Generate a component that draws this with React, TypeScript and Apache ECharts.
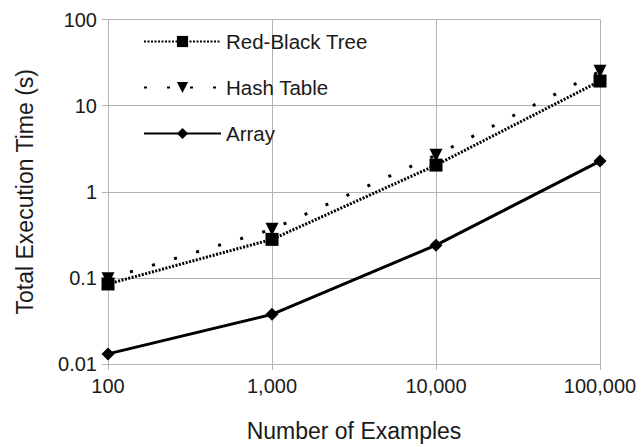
import React, { useEffect, useRef } from "react";
import * as echarts from "echarts";

const examples = [100, 1000, 10000, 100000];
const redBlackTree = [0.085, 0.28, 2.04, 19.3];
const hashTable = [0.098, 0.366, 2.66, 25];
const arrayTimes = [0.0131, 0.0377, 0.24, 2.27];
const xTickLabels = ["100", "1,000", "10,000", "100,000"];
const yTickLabels = ["0.01", "0.1", "1", "10", "100"];
const yTickValues = [0.01, 0.1, 1, 10, 100];

const FONT = "Liberation Sans";
const TEXT = "#1a1a1a";
const GRID = "#b3b3b3";

function pair(ys: number[]) {
  return examples.map((x, i) => [x, ys[i]]);
}

export default function App() {
  const ref = useRef<HTMLDivElement>(null);
  useEffect(() => {
    if (!ref.current) return;
    const chart = echarts.init(ref.current, null, { renderer: "svg" });
    chart.setOption({
      animation: false,
      backgroundColor: "#ffffff",
      textStyle: { fontFamily: FONT },
      grid: { left: 108, right: 41, top: 19.5, bottom: 79, containLabel: false },
      legend: {
        left: 138,
        top: 26,
        orient: "vertical",
        itemWidth: 77,
        itemHeight: 14,
        itemGap: 25,
        textStyle: { fontFamily: FONT, fontSize: 20.5, color: TEXT },
        data: ["Red-Black Tree", "Hash Table", "Array"],
      },
      xAxis: {
        type: "log",
        logBase: 10,
        min: 100,
        max: 100000,
        name: "Number of Examples",
        nameLocation: "middle",
        nameGap: 55,
        nameTextStyle: { fontFamily: FONT, fontSize: 23, color: TEXT },
        axisLine: { show: true, lineStyle: { color: GRID, width: 1 } },
        axisTick: { show: true, length: 6, lineStyle: { color: GRID } },
        minorTick: { show: false },
        splitLine: { show: true, lineStyle: { color: GRID, width: 1 } },
        axisLabel: {
          fontFamily: FONT,
          fontSize: 20,
          color: TEXT,
          margin: 12,
          formatter: (v: number) => {
            const i = examples.findIndex((e) => Math.abs(e - v) / e < 1e-6);
            return i >= 0 ? xTickLabels[i] : "";
          },
        },
      },
      yAxis: {
        type: "log",
        logBase: 10,
        min: 0.01,
        max: 100,
        name: "Total Execution Time (s)",
        nameLocation: "middle",
        nameGap: 72,
        nameTextStyle: { fontFamily: FONT, fontSize: 23, color: TEXT },
        axisLine: { show: true, lineStyle: { color: GRID, width: 1 } },
        axisTick: { show: true, length: 6, lineStyle: { color: GRID } },
        splitLine: { show: true, lineStyle: { color: GRID, width: 1 } },
        axisLabel: {
          fontFamily: FONT,
          fontSize: 20,
          color: TEXT,
          margin: 11,
          formatter: (v: number) => {
            const i = yTickValues.findIndex((e) => Math.abs(e - v) / e < 1e-6);
            return i >= 0 ? yTickLabels[i] : "";
          },
        },
      },
      series: [
        {
          name: "Hash Table",
          type: "line",
          data: pair(hashTable),
          symbol: "triangle",
          symbolRotate: 180,
          symbolSize: 13,
          itemStyle: { color: "#000" },
          lineStyle: { color: "#000", width: 3, type: [3, 20], cap: "butt" },
          z: 2,
        },
        {
          name: "Red-Black Tree",
          type: "line",
          data: pair(redBlackTree),
          symbol: "rect",
          symbolSize: 13,
          itemStyle: { color: "#000" },
          lineStyle: { color: "#000", width: 3, type: [2, 1.5], cap: "butt" },
          z: 3,
        },
        {
          name: "Array",
          type: "line",
          data: pair(arrayTimes),
          symbol: "diamond",
          symbolSize: 13,
          itemStyle: { color: "#000" },
          lineStyle: { color: "#000", width: 3 },
          z: 3,
        },
      ],
    });
    return () => chart.dispose();
  }, []);
  return (
    <div
      ref={ref}
      style={{ position: "absolute", left: 0, top: 0, width: 641, height: 447 }}
    />
  );
}
